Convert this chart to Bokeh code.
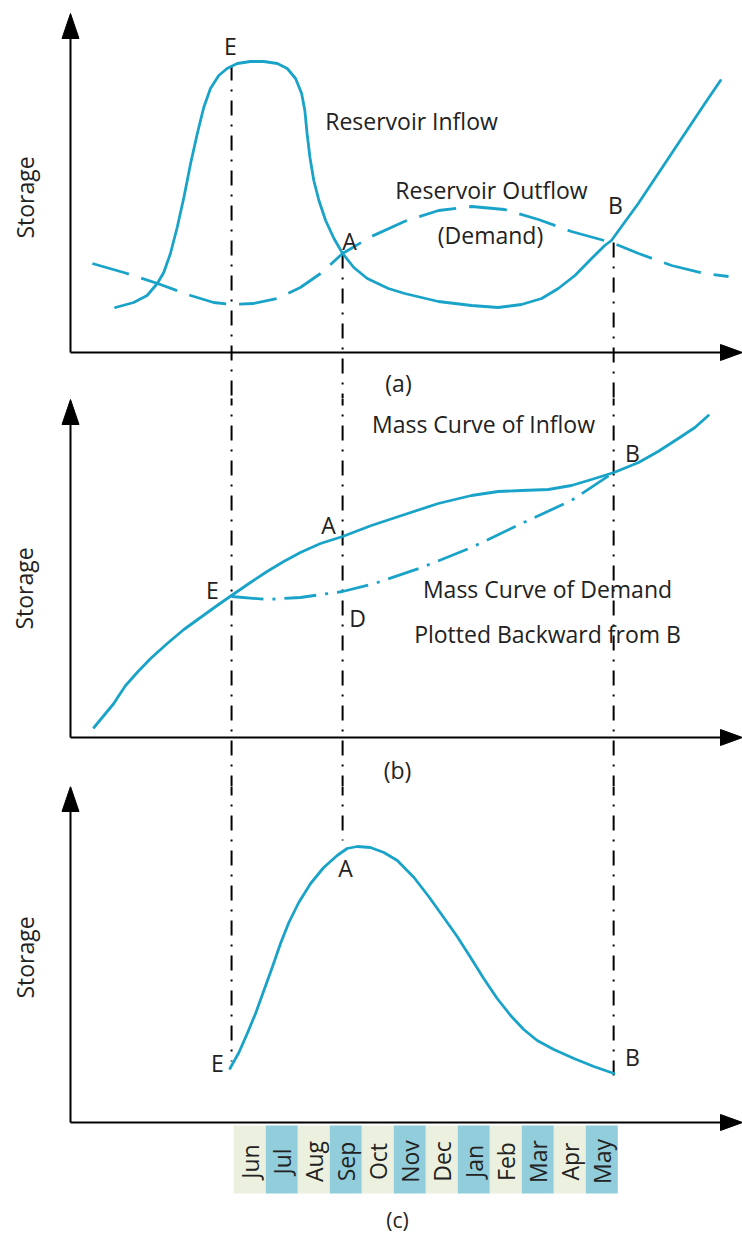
import math

from bokeh.core.properties import value
from bokeh.embed import file_html
from bokeh.layouts import column
from bokeh.models import Range1d
from bokeh.plotting import figure
from bokeh.resources import INLINE

# ---------------------------------------------------------------------------
# Data
# ---------------------------------------------------------------------------
# Time is measured in months after the start of June.
months = ["Jun", "Jul", "Aug", "Sep", "Oct", "Nov",
          "Dec", "Jan", "Feb", "Mar", "Apr", "May"]
month_fill = ["#ebf1de", "#92cddc"] * 6

# Critical instants: E (start of deficit), A (max storage), B (end of deficit)
t_E, t_A, t_B = -0.07, 3.40, 11.87

# (a) Reservoir inflow and outflow (demand) hydrographs
inflow_t = [-3.70, -3.13, -2.71, -2.39, -2.19, -1.98, -1.77, -1.56, -1.35,
            -1.14, -0.94, -0.73, -0.47, -0.21, 0.11, 0.52, 0.94, 1.36,
            1.67, 1.93, 2.12, 2.22, 2.29, 2.38, 2.50, 2.66, 2.87, 3.13,
            3.40, 3.75, 4.17, 4.83, 5.34, 6.39, 7.43, 8.26, 8.99, 9.62,
            10.14, 10.66, 11.18, 11.59, 11.80, 12.64, 13.68, 14.72, 15.21]
inflow_q = [4.5, 5.0, 5.7, 6.9, 8.0, 9.9, 12.5, 15.5, 18.9,
            21.9, 24.5, 26.4, 27.7, 28.4, 28.9, 29.1, 29.1, 28.9,
            28.4, 27.4, 25.9, 24.2, 21.9, 19.5, 17.2, 15.2, 13.2, 11.4,
            9.9, 8.5, 7.4, 6.4, 5.9, 5.1, 4.7, 4.5, 4.8, 5.4,
            6.4, 7.7, 9.4, 10.7, 11.2, 14.9, 19.9, 24.9, 27.2]

outflow_t = [-4.42, -3.44, -2.38, -1.35, -0.63, -0.07, 0.62, 1.37, 2.08,
             2.71, 3.40, 4.30, 5.33, 6.40, 7.43, 8.46, 9.52, 10.55, 11.80,
             12.65, 13.68, 14.71, 15.46]
outflow_q = [8.9, 8.0, 6.9, 5.7, 5.0, 4.8, 4.9, 5.4, 6.5,
             7.9, 9.9, 11.6, 13.1, 14.2, 14.6, 14.3, 13.3, 12.1, 11.0,
             9.9, 8.7, 7.9, 7.6]

# (b) Mass curves
mass_in_t = [-4.37, -4.06, -3.75, -3.59, -3.38, -3.02, -2.60, -2.08, -1.56,
             -1.04, -0.52, -0.07, 0.52, 1.04, 1.56, 2.08, 2.71, 3.40,
             4.30, 5.34, 6.39, 7.43, 8.26, 8.99, 9.83, 10.55, 11.18,
             11.88, 12.65, 13.26, 13.89, 14.41, 14.83]
mass_in_v = [1.0, 2.2, 3.4, 4.2, 5.2, 6.5, 7.9, 9.4, 10.8,
             12.0, 13.2, 14.2, 15.5, 16.6, 17.6, 18.5, 19.4, 20.1,
             21.2, 22.3, 23.4, 24.2, 24.6, 24.7, 24.8, 25.2, 25.8,
             26.5, 27.5, 28.6, 29.9, 31.0, 32.2]

mass_dem_t = [-0.07, 1.05, 2.08, 3.40, 4.40, 5.87, 7.43, 8.99, 10.55, 11.87]
mass_dem_v = [14.1, 13.8, 14.0, 14.6, 15.4, 17.0, 19.0, 21.4, 23.7, 26.5]

# (c) Reservoir storage between E and B
store_t = [-0.12, 0.16, 0.42, 0.68, 0.94, 1.20, 1.46, 1.72, 2.03, 2.40,
           2.81, 3.23, 3.54, 3.86, 4.27, 4.69, 5.11, 5.63, 6.09, 6.56,
           6.98, 7.40, 7.81, 8.23, 8.65, 9.06, 9.48, 10.00, 10.63,
           11.25, 11.88]
store_v = [5.4, 7.0, 8.9, 10.9, 13.2, 15.5, 17.9, 20.0, 22.0, 23.9,
           25.5, 26.7, 27.4, 27.6, 27.5, 27.0, 26.2, 24.5, 22.6, 20.5,
           18.6, 16.5, 14.4, 12.4, 10.7, 9.3, 8.2, 7.3, 6.4,
           5.6, 4.9]

# ---------------------------------------------------------------------------
# Styling / layout
# ---------------------------------------------------------------------------
W = 742
X0 = 233.3          # page x of the start of June
PX_PER_MONTH = 32.0
PX_PER_UNIT = 10.0
BLUE = "#1aa3c8"
INK = "#222222"
FONT = value("Open Sans")
MARK_DASH = "15 9 2 9"
LABEL_SIZE = 23
VERTICAL = math.pi / 2


def tx(px):
    return (px - X0) / PX_PER_MONTH


def make_panel(top, height, axis_y, tip_y):
    """A borderless panel whose data origin sits on its drawn time axis."""
    p = figure(width=W, height=height,
               x_range=Range1d(tx(0), tx(W)),
               y_range=Range1d((axis_y - (top + height)) / PX_PER_UNIT,
                               (axis_y - top) / PX_PER_UNIT),
               output_backend="svg", toolbar_location=None,
               x_axis_type=None, y_axis_type=None, min_border=0)
    p.outline_line_color = None
    p.background_fill_color = "white"
    p.border_fill_color = "white"

    def sy(py):
        return (axis_y - py) / PX_PER_UNIT

    # axes with filled arrow heads
    p.line([tx(70), tx(70)], [0, sy(tip_y + 20)], line_color="black", line_width=2)
    p.line([tx(70), tx(724)], [0, 0], line_color="black", line_width=2)
    p.patch([tx(61.5), tx(70), tx(78.5)], [sy(tip_y + 25), sy(tip_y), sy(tip_y + 25)],
            fill_color="black", line_color="black")
    p.patch([tx(720), tx(742), tx(720)], [sy(axis_y - 8), 0, sy(axis_y + 8)],
            fill_color="black", line_color="black")
    return p, sy


def label(p, sy, px, py, text, size=LABEL_SIZE, angle=0.0):
    p.text(x=[tx(px)], y=[sy(py)], text=[text], angle=angle,
           text_align="center", text_baseline="middle",
           text_font=FONT, text_font_size=f"{size}px", text_color=INK)


def marker(p, t, y_top, y_bottom):
    p.line([t, t], [y_top, y_bottom], line_color="black", line_width=2,
           line_dash=MARK_DASH)


def curve(p, t, v, dash="solid"):
    p.line(t, v, line_color=BLUE, line_width=2.8, line_dash=dash,
           line_join="round", line_cap="round" if dash == "solid" else "butt")


# ---------------------------------------------------------------------------
# (a) Hydrographs
# ---------------------------------------------------------------------------
pa, sya = make_panel(0, 398, 352, 13)
bottom_a = sya(410)
marker(pa, t_E, sya(65), bottom_a)
marker(pa, t_A, sya(253), bottom_a)
marker(pa, t_B, sya(242), bottom_a)
curve(pa, outflow_t, outflow_q, "38 13")
curve(pa, inflow_t, inflow_q)
label(pa, sya, 24, 197, "Storage", angle=VERTICAL)
label(pa, sya, 230, 45, "E")
label(pa, sya, 349, 240, "A")
label(pa, sya, 615, 204, "B")
label(pa, sya, 411, 120, "Reservoir Inflow")
label(pa, sya, 491, 189, "Reservoir Outflow")
label(pa, sya, 490, 234, "(Demand)")
label(pa, sya, 398, 382, "(a)")

# ---------------------------------------------------------------------------
# (b) Mass curves
# ---------------------------------------------------------------------------
pb, syb = make_panel(398, 388, 737, 399)
for t in (t_E, t_A, t_B):
    marker(pb, t, syb(390), syb(800))
curve(pb, mass_dem_t, mass_dem_v, "32 9 3 9")
curve(pb, mass_in_t, mass_in_v)
label(pb, syb, 23, 588, "Storage", angle=VERTICAL)
label(pb, syb, 483, 423, "Mass Curve of Inflow")
label(pb, syb, 632, 452, "B")
label(pb, syb, 328, 524, "A")
label(pb, syb, 212, 589, "E")
label(pb, syb, 357, 617, "D")
label(pb, syb, 547, 588, "Mass Curve of Demand")
label(pb, syb, 547, 633, "Plotted Backward from B")
label(pb, syb, 397, 769, "(b)")

# ---------------------------------------------------------------------------
# (c) Storage
# ---------------------------------------------------------------------------
pc, syc = make_panel(786, 448, 1122, 786)
marker(pc, t_E, syc(780), syc(1061))
marker(pc, t_A, syc(780), syc(840))
marker(pc, t_B, syc(780), syc(1079))
curve(pc, store_t, store_v)
label(pc, syc, 24, 957, "Storage", angle=VERTICAL)
label(pc, syc, 345, 867, "A")
label(pc, syc, 217, 1062, "E")
label(pc, syc, 632, 1056, "B")

# month strip under the time axis
pc.quad(left=list(range(12)), right=list(range(1, 13)),
        top=[syc(1125)] * 12, bottom=[syc(1193)] * 12,
        fill_color=month_fill, line_color=None)
pc.text(x=[i + 0.5 for i in range(12)], y=[syc(1161)] * 12, text=months,
        angle=VERTICAL, text_align="center", text_baseline="middle",
        text_font=FONT, text_font_size="23px", text_color=INK)
label(pc, syc, 397, 1219, "(c)", 21)

layout = column(pa, pb, pc, spacing=0)
open("out.html", "w").write(file_html(layout, INLINE))
